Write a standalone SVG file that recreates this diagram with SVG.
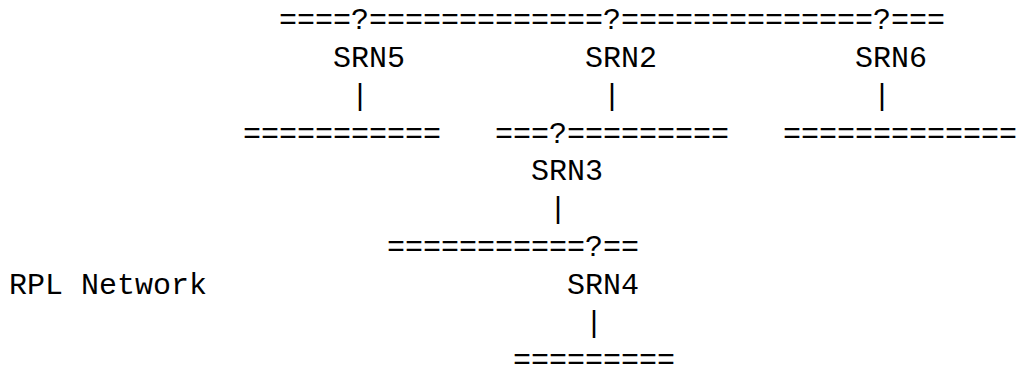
<svg xmlns="http://www.w3.org/2000/svg" width="1017" height="368" viewBox="0 0 1017 368">
<style>
text{font-family:"Liberation Mono","DejaVu Sans Mono",monospace;font-size:30px;fill:#000;white-space:pre}
</style>
<rect width="1017" height="368" fill="#fff"/>
<g id="connectors">
<text x="279" y="29.2">====?=============?==============?===</text>
<text x="351" y="104.8">|</text>
<text x="603" y="104.8">|</text>
<text x="873" y="104.8">|</text>
<text x="243" y="142.6">===========</text>
<text x="495" y="142.6">===?=========</text>
<text x="783" y="142.6">=============</text>
<text x="549" y="218.2">|</text>
<text x="387" y="256">===========?==</text>
<text x="585" y="331.6">|</text>
<text x="513" y="369.4">=========</text>
</g>
<g id="SRN5"><text x="333" y="67">SRN5</text></g>
<g id="SRN2"><text x="585" y="67">SRN2</text></g>
<g id="SRN6"><text x="855" y="67">SRN6</text></g>
<g id="SRN3"><text x="531" y="180.4">SRN3</text></g>
<g id="SRN4"><text x="567" y="293.8">SRN4</text></g>
<g id="rpl-network"><text x="9" y="293.8">RPL Network</text></g>
</svg>
